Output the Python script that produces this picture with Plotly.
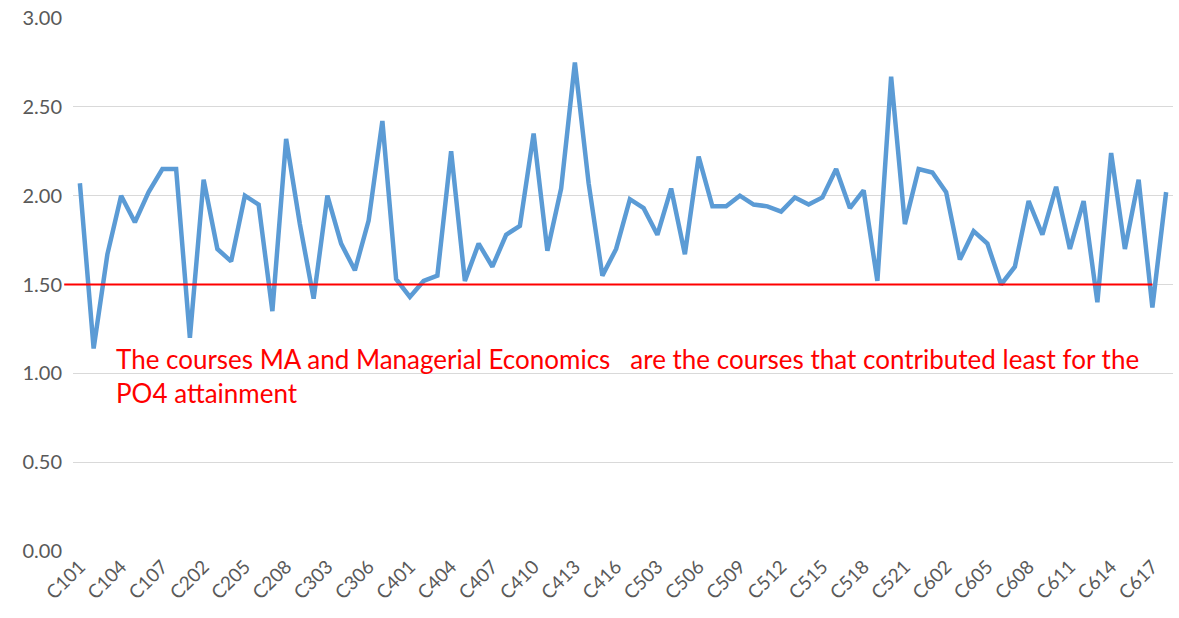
import plotly.graph_objects as go

categories = (
    [f"C10{i}" for i in range(1, 9)]
    + [f"C20{i}" for i in range(1, 9)]
    + [f"C30{i}" for i in range(1, 9)]
    + [f"C4{i:02d}" for i in range(1, 17)]
    + [f"C5{i:02d}" for i in range(1, 23)]
    + [f"C6{i:02d}" for i in range(1, 19)]
)

values = [
    2.07, 1.14, 1.67, 2.00, 1.85, 2.02, 2.15, 2.15,
    1.20, 2.09, 1.70, 1.63, 2.00, 1.95, 1.35, 2.32,
    1.84, 1.42, 2.00, 1.73, 1.58, 1.86, 2.42, 1.53,
    1.43, 1.52, 1.55, 2.25, 1.52, 1.73, 1.60, 1.78,
    1.83, 2.35, 1.69, 2.04, 2.75, 2.07, 1.55, 1.70,
    1.98, 1.93, 1.78, 2.04, 1.67, 2.22, 1.94, 1.94,
    2.00, 1.95, 1.94, 1.91, 1.99, 1.95, 1.99, 2.15,
    1.93, 2.03, 1.52, 2.67, 1.84, 2.15, 2.13, 2.02,
    1.64, 1.80, 1.73, 1.50, 1.60, 1.97, 1.78, 2.05,
    1.70, 1.97, 1.40, 2.24, 1.70, 2.09, 1.37, 2.02,
]

threshold = 1.5
threshold_end = "C617"
tick_labels = categories[::3]
note = ("The courses MA and Managerial Economics   are the courses that contributed least for the"
        "<br>PO4 attainment")

FONT = "Lato, 'Liberation Sans', sans-serif"

fig = go.Figure()
fig.add_trace(go.Scatter(
    x=categories, y=values, mode="lines",
    line=dict(color="#5B9BD5", width=4.5),
    hoverinfo="x+y", showlegend=False,
))

n = len(categories)
end_idx = categories.index(threshold_end)
fig.add_shape(
    type="line", xref="paper", yref="y",
    x0=-0.008, x1=(end_idx + 0.5) / n,
    y0=threshold, y1=threshold,
    line=dict(color="#FF0000", width=2),
    layer="above",
)

fig.add_annotation(
    text=note, xref="paper", yref="y", x=0.037, y=1.18,
    xanchor="left", yanchor="top", align="left", showarrow=False,
    font=dict(family=FONT, size=26, color="#FF0000"),
)

fig.update_layout(
    width=1179, height=618,
    margin=dict(l=73, r=6, t=18, b=67, autoexpand=False),
    paper_bgcolor="white", plot_bgcolor="white",
    font=dict(family=FONT, color="#595959"),
    xaxis=dict(
        type="category", range=[-0.5, n - 0.5], automargin=False,
        tickmode="array", tickvals=tick_labels, ticktext=tick_labels,
        tickangle=-45, tickfont=dict(size=19, color="#595959"),
        showgrid=False, showline=False, zeroline=False, ticks="",
    ),
    yaxis=dict(
        range=[0, 3], dtick=0.5, tick0=0, tickformat=".2f", automargin=False,
        tickfont=dict(size=20, color="#595959"),
        showgrid=True, gridcolor="#D9D9D9", gridwidth=1,
        zeroline=False, showline=False, ticks="", ticklabelstandoff=10,
    ),
)

fig.write_html("out.html", config={"displayModeBar": False})

with open("out.html", "r", encoding="utf-8") as f:
    html = f.read()
html = html.replace("<head>", "<head><style>html,body{margin:0;padding:0;overflow:hidden;}</style>", 1)
with open("out.html", "w", encoding="utf-8") as f:
    f.write(html)
